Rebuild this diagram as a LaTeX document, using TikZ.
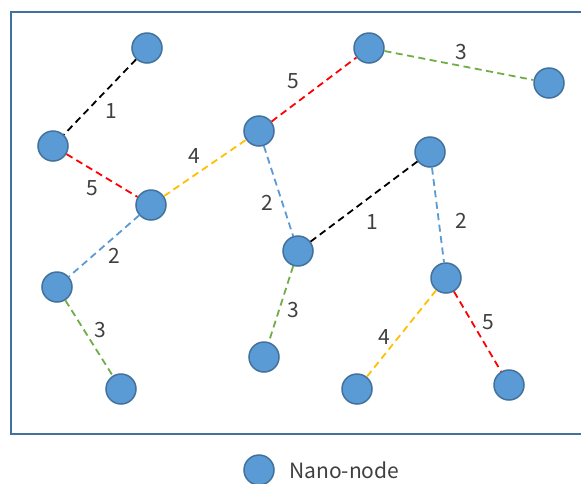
\documentclass[tikz,border=0pt]{standalone}
\usepackage{fontspec}
\newfontfamily\cjk{Noto Sans CJK SC}
\definecolor{nfill}{HTML}{5B9BD5}
\definecolor{nedge}{HTML}{41719C}
\definecolor{cred}{HTML}{FF0000}
\definecolor{corange}{HTML}{FFC000}
\definecolor{cgreen}{HTML}{70AD47}
\definecolor{cblue}{HTML}{5B9BD5}
\definecolor{txt}{HTML}{404040}
\tikzset{
  nano/.style={circle,fill=nfill,draw=nedge,line width=1.5pt,minimum size=30pt,inner sep=0pt},
  link/.style={dash pattern=on 7pt off 4.5pt,line width=1.8pt},
  lbl/.style={font=\cjk\fontsize{21}{21}\selectfont,text=txt,inner sep=0pt}
}
\begin{document}
\begin{tikzpicture}[x=1pt,y=-1pt]
\useasboundingbox (0,0) rectangle (581,483);
\fill[white] (0,0) rectangle (581,483);
\draw[nedge,line width=2pt] (590,12) -- (11,12) -- (11,434) -- (590,434);
\node[nano] (A) at (147,48) {};
\node[nano] (B) at (53,146) {};
\node[nano] (C) at (151,205) {};
\node[nano] (D) at (259,131) {};
\node[nano] (E) at (369,48) {};
\node[nano] (F) at (549,83) {};
\node[nano] (G) at (430,152) {};
\node[nano] (H) at (298,251) {};
\node[nano] (I) at (57,287) {};
\node[nano] (J) at (121,389) {};
\node[nano] (K) at (264,357) {};
\node[nano] (L) at (446,278) {};
\node[nano] (M) at (357,389) {};
\node[nano] (N) at (509,385) {};
\draw[link,black] (A) -- (B);
\draw[link,cred] (B) -- (C);
\draw[link,corange] (C) -- (D);
\draw[link,cred] (D) -- (E);
\draw[link,cgreen] (E) -- (F);
\draw[link,cblue] (C) -- (I);
\draw[link,cgreen] (I) -- (J);
\draw[link,cblue] (D) -- (H);
\draw[link,cgreen] (H) -- (K);
\draw[link,black] (H) -- (G);
\draw[link,cblue] (G) -- (L);
\draw[link,corange] (L) -- (M);
\draw[link,cred] (L) -- (N);
\node[lbl] (l1) at (111,111) {1};
\node[lbl] (l2) at (92,188) {5};
\node[lbl] (l3) at (194,156) {4};
\node[lbl] (l4) at (293,81) {5};
\node[lbl] (l5) at (461,52) {3};
\node[lbl] (l6) at (114,256) {2};
\node[lbl] (l7) at (100,330) {3};
\node[lbl] (l8) at (267,203) {2};
\node[lbl] (l9) at (293,310) {3};
\node[lbl] (l10) at (372,222) {1};
\node[lbl] (l11) at (461,221) {2};
\node[lbl] (l12) at (384,337) {4};
\node[lbl] (l13) at (488,322) {5};
\node[nano] (leg) at (259,470) {};
\node[lbl,anchor=west] (legt) at (289,470) {Nano-node};
\end{tikzpicture}
\end{document}
